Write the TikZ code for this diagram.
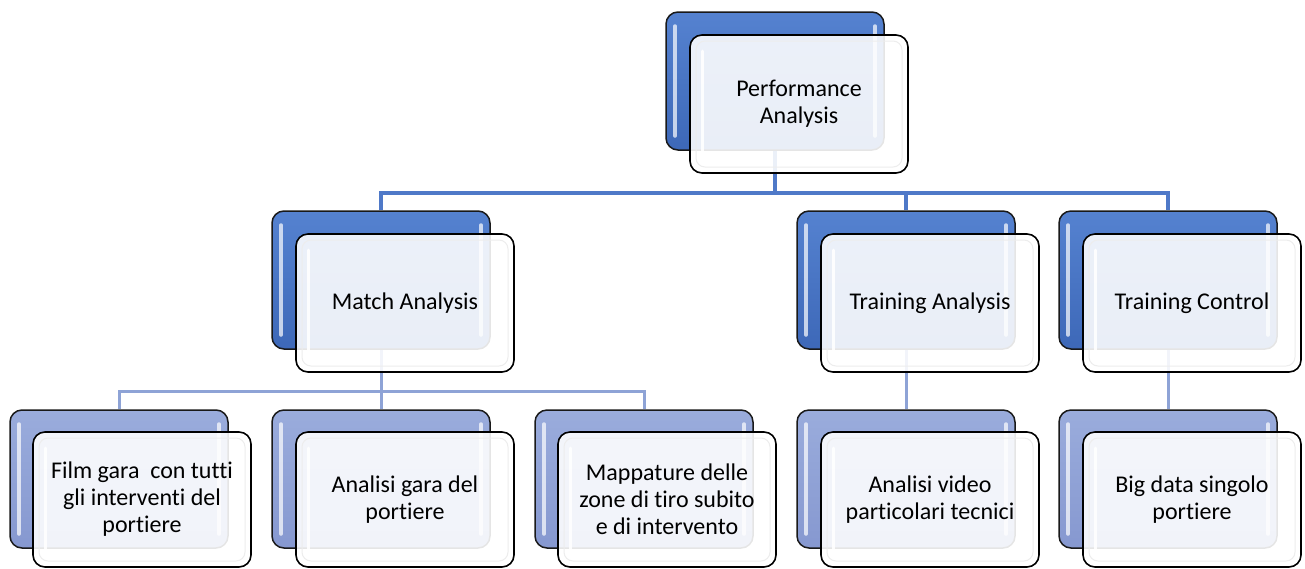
\documentclass[tikz,border=0pt]{standalone}
\usepackage{fontspec}
\setmainfont{Carlito}[RawFeature={-liga;-clig;-calt;-dlig}]
\pgfdeclarelayer{bg}
\pgfsetlayers{bg,main}
\definecolor{blueA}{HTML}{4472C4}
\definecolor{blueAtop}{HTML}{5582D0}
\definecolor{blueAbot}{HTML}{3D68B8}
\definecolor{blueB}{HTML}{8FA2D6}
\definecolor{blueBtop}{HTML}{9AACDC}
\definecolor{blueBbot}{HTML}{8698D0}
\definecolor{connA}{HTML}{4F79C8}
\definecolor{connB}{HTML}{8EA3D6}
\begin{document}
\begin{tikzpicture}[x=1pt,y=-1pt,
  streaks/.style={path picture={
    \draw[white, opacity=0.7, line width=3.5pt, line cap=round]
      ([xshift=9pt,yshift=-14pt]path picture bounding box.north west) --
      ([xshift=9pt,yshift=14pt]path picture bounding box.south west);
    \draw[white, opacity=0.7, line width=3.5pt, line cap=round]
      ([xshift=-9pt,yshift=-14pt]path picture bounding box.north east) --
      ([xshift=-9pt,yshift=14pt]path picture bounding box.south east);}},
  backbase/.style={draw=black!90, line width=1.5pt, rounded corners=12pt,
    minimum width=218pt, minimum height=138pt, inner sep=0pt, streaks},
  backA/.style={backbase, top color=blueAtop, bottom color=blueAbot},
  backB/.style={backbase, top color=blueBtop, bottom color=blueBbot},
  frontbox/.style={draw=black, line width=1.6pt, rounded corners=12pt,
    fill=white, fill opacity=0.89, text opacity=1,
    minimum width=218pt, minimum height=138pt, inner sep=4pt,
    align=center, font=\fontsize{24}{27}\selectfont,
    path picture={
      \draw[black!7, line width=1pt, rounded corners=9pt]
        ([xshift=6pt,yshift=-6pt]path picture bounding box.north west) rectangle
        ([xshift=-6pt,yshift=6pt]path picture bounding box.south east);
      \draw[white, opacity=0.9, line width=3pt, line cap=round]
        ([xshift=12pt,yshift=-16pt]path picture bounding box.north west) --
        ([xshift=12pt,yshift=16pt]path picture bounding box.south west);}},
  frontC/.style={frontbox, minimum height=135pt},
  connA/.style={draw=connA, line width=3.2pt},
  connB/.style={draw=connB, line width=3pt}]
\useasboundingbox (0,0) rectangle (1305,568);

% level 1
\node[backA] (pa-b) at (775,81) {};
\node[frontbox] (pa) at (799,104) {Performance\\Analysis};

% level 2
\node[backA] (ma-b) at (381,280) {};
\node[frontbox] (ma) at (405,303) {Match Analysis};
\node[backA] (ta-b) at (906,280) {};
\node[frontbox] (ta) at (930,303) {Training Analysis};
\node[backA] (tc-b) at (1168,280) {};
\node[frontbox] (tc) at (1192,303) {Training Control};

% level 3
\node[backB] (fg-b) at (119,479) {};
\node[frontC] (fg) at (142,499.5) {Film gara\ \ con tutti\\gli interventi del\\portiere};
\node[backB] (ag-b) at (381,479) {};
\node[frontC] (ag) at (405,499.5) {Analisi gara del\\portiere};
\node[backB] (mp-b) at (644,479) {};
\node[frontC] (mp) at (667,499.5) {Mappature delle\\zone di tiro subito\\e di intervento};
\node[backB] (av-b) at (906,479) {};
\node[frontC] (av) at (930,499.5) {Analisi video\\particolari tecnici};
\node[backB] (bd-b) at (1168,479) {};
\node[frontC] (bd) at (1192,499.5) {Big data singolo\\portiere};

\coordinate (bus1) at (0,193);
\coordinate (bus2) at (0,391);
\begin{pgfonlayer}{bg}
  \draw[connA] (pa-b.south) -- (pa-b.south |- bus1);
  \draw[connA] (ma-b.north) -- (ma-b.north |- bus1) -- (tc-b.north |- bus1) -- (tc-b.north);
  \draw[connA] (ta-b.north) -- (ta-b.north |- bus1);
  \draw[connB] (ma-b.south) -- (ma-b.south |- bus2);
  \draw[connB] (fg-b.north) -- (fg-b.north |- bus2) -- (mp-b.north |- bus2) -- (mp-b.north);
  \draw[connB] (ag-b.north) -- (ag-b.north |- bus2);
  \draw[connB] (ta-b.south) -- (av-b.north);
  \draw[connB] (tc-b.south) -- (bd-b.north);
\end{pgfonlayer}
\end{tikzpicture}
\end{document}
